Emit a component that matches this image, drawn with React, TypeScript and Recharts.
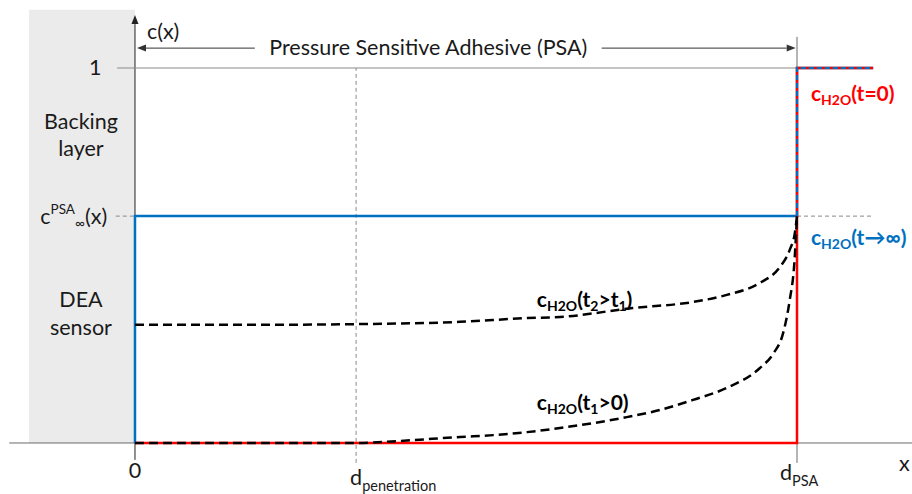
import React from 'react';
import { ComposedChart, Line, XAxis, YAxis, ReferenceArea, ReferenceLine, ReferenceDot } from 'recharts';

// axis domains chosen so x=0 sits on the c(x) axis and x=1 on d_PSA
const X_DOMAIN = [-0.2039, 1.1737];
const Y_DOMAIN = [-0.136, 1.1813];

// positions along x (0 = sensor surface, 1 = PSA thickness)
const D_PEN = 0.334;
const D_PSA = 1;
const X_END = 1.115;

// concentration levels
const C_ONE = 1;
const C_INF = 0.605;

// c_H2O(t=0): dry PSA, water only outside
const curveT0 = [
  { x: 0, y: 0 },
  { x: D_PSA, y: 0 },
  { x: D_PSA, y: C_ONE },
  { x: X_END, y: C_ONE },
];

// c_H2O(t->inf): saturated PSA
const curveInf = [
  { x: 0, y: 0 },
  { x: 0, y: C_INF },
  { x: D_PSA, y: C_INF },
  { x: D_PSA, y: C_ONE },
  { x: X_END, y: C_ONE },
];
const curveInfTop = [
  { x: D_PSA, y: C_INF },
  { x: D_PSA, y: C_ONE },
  { x: X_END, y: C_ONE },
];

// c_H2O(t1>0)
const curveT1 = [
  { x: 0, y: 0 },
  { x: 0.334, y: 0 },
  { x: 0.396, y: 0.005 },
  { x: 0.491, y: 0.016 },
  { x: 0.541, y: 0.021 },
  { x: 0.592, y: 0.029 },
  { x: 0.642, y: 0.04 },
  { x: 0.743, y: 0.069 },
  { x: 0.793, y: 0.088 },
  { x: 0.843, y: 0.115 },
  { x: 0.894, y: 0.147 },
  { x: 0.944, y: 0.2 },
  { x: 0.964, y: 0.238 },
  { x: 0.979, y: 0.293 },
  { x: 0.989, y: 0.381 },
  { x: 0.996, y: 0.48 },
  { x: 1.0, y: 0.605 },
];

// c_H2O(t2>t1)
const curveT2 = [
  { x: 0, y: 0.315 },
  { x: 0.174, y: 0.315 },
  { x: 0.334, y: 0.317 },
  { x: 0.491, y: 0.323 },
  { x: 0.592, y: 0.333 },
  { x: 0.642, y: 0.336 },
  { x: 0.752, y: 0.36 },
  { x: 0.843, y: 0.376 },
  { x: 0.894, y: 0.395 },
  { x: 0.944, y: 0.427 },
  { x: 0.974, y: 0.469 },
  { x: 0.989, y: 0.515 },
  { x: 0.997, y: 0.563 },
  { x: 1.0, y: 0.605 },
];

const RED = '#ff0000';
const BLUE = '#0070c0';
const GRAY = '#8a8a8a';
const AXIS = '#6a6a6a';
const TXT = '#1a1a1a';
const FONT = 'Lato, "Open Sans", sans-serif';
const FS = 21.5;

const Arrow = (props: any) => {
  const { x1, y1, x2, y2, color = '#333' } = props;
  const a = Math.atan2(y2 - y1, x2 - x1);
  const len = 9;
  const w = 3.5;
  const bx = x2 - len * Math.cos(a);
  const by = y2 - len * Math.sin(a);
  const px = -Math.sin(a) * w;
  const py = Math.cos(a) * w;
  return (
    <g>
      <line x1={x1} y1={y1} x2={bx} y2={by} stroke={color} strokeWidth={1} />
      <polygon points={`${x2},${y2} ${bx + px},${by + py} ${bx - px},${by - py}`} fill={color} />
    </g>
  );
};

// text placed through the chart scales
const note = (key: string, x: number, y: number, render: (cx: number, cy: number) => React.ReactNode) => (
  <ReferenceDot key={key} x={x} y={y} r={0} shape={(p: any) => <g>{render(p.cx, p.cy)}</g>} />
);

const subLabel = (main: string, sub: string, rest: React.ReactNode, color: string) => (cx: number, cy: number) => (
  <text x={cx} y={cy} fill={color} fontFamily={FONT} fontWeight={700} fontSize={21}>
    {main}
    <tspan fontSize={14} dy={4}>{sub}</tspan>
    <tspan dy={-4}>{rest}</tspan>
  </text>
);

export default function App() {
  return (
    <div style={{ position: 'absolute', left: 0, top: 0, width: 912, height: 494, background: '#fff' }}>
      <ComposedChart width={912} height={494} margin={{ top: 0, right: 0, bottom: 0, left: 0 }}>
        <XAxis type="number" dataKey="x" domain={X_DOMAIN} hide allowDataOverflow />
        <YAxis type="number" domain={Y_DOMAIN} hide allowDataOverflow />

        {/* backing layer / DEA sensor */}
        <ReferenceArea x1={-0.16} x2={0} y1={0} y2={1.155} fill="#ebebeb" fillOpacity={1} stroke="none" />

        {/* axes */}
        <ReferenceLine segment={[{ x: -0.19, y: 0 }, { x: 1.1737, y: 0 }]} stroke={AXIS} strokeWidth={1} />
        <ReferenceLine
          segment={[{ x: 0, y: -0.045 }, { x: 0, y: 1.141 }]}
          shape={(p: any) => <Arrow {...p} color="#222" />}
        />
        <ReferenceLine segment={[{ x: D_PSA, y: -0.053 }, { x: D_PSA, y: 1.083 }]} stroke={AXIS} strokeWidth={1} />
        <ReferenceLine segment={[{ x: D_PEN, y: -0.053 }, { x: D_PEN, y: C_ONE }]} stroke={GRAY} strokeDasharray="4 3" strokeWidth={1} />
        <ReferenceLine segment={[{ x: -0.027, y: C_ONE }, { x: D_PSA, y: C_ONE }]} stroke={GRAY} strokeWidth={1} />
        <ReferenceLine segment={[{ x: -0.029, y: C_INF }, { x: 0, y: C_INF }]} stroke={GRAY} strokeDasharray="4 3" strokeWidth={1} />
        <ReferenceLine segment={[{ x: D_PSA, y: C_INF }, { x: X_END, y: C_INF }]} stroke={GRAY} strokeDasharray="4 3" strokeWidth={1} />

        {/* PSA thickness arrows */}
        <ReferenceLine segment={[{ x: 0.181, y: 1.053 }, { x: 0.003, y: 1.053 }]} shape={(p: any) => <Arrow {...p} color="#333" />} />
        <ReferenceLine segment={[{ x: 0.705, y: 1.053 }, { x: 0.998, y: 1.053 }]} shape={(p: any) => <Arrow {...p} color="#333" />} />

        <Line data={curveInf} dataKey="y" type="linear" stroke={BLUE} strokeWidth={2.5} dot={false} activeDot={false} isAnimationActive={false} />
        <Line data={curveT0} dataKey="y" type="linear" stroke={RED} strokeWidth={2.5} dot={false} activeDot={false} isAnimationActive={false} />
        <Line data={curveInfTop} dataKey="y" type="linear" stroke={BLUE} strokeWidth={2} strokeDasharray="5 3" dot={false} activeDot={false} isAnimationActive={false} />
        <Line data={curveT2} dataKey="y" type="monotone" stroke="#000" strokeWidth={2.5} strokeDasharray="9 5" dot={false} activeDot={false} isAnimationActive={false} />
        <Line data={curveT1} dataKey="y" type="monotone" stroke="#000" strokeWidth={2.5} strokeDasharray="9 5" dot={false} activeDot={false} isAnimationActive={false} />

        {note('cx', 0.018, 1.096, (cx, cy) => (
          <text x={cx} y={cy} dy={7} fill={TXT} fontFamily={FONT} fontSize={FS}>c(x)</text>
        ))}
        {note('psa', 0.443, 1.053, (cx, cy) => (
          <text x={cx} y={cy} dy={7} textAnchor="middle" fill={TXT} fontFamily={FONT} fontSize={FS}>Pressure Sensitive Adhesive (PSA)</text>
        ))}
        {note('one', -0.06, C_ONE, (cx, cy) => (
          <text x={cx} y={cy} dy={7} textAnchor="middle" fill={TXT} fontFamily={FONT} fontSize={FS}>1</text>
        ))}
        {note('cinf', -0.042, C_INF, (cx, cy) => (
          <text x={cx} y={cy} dy={8} textAnchor="end" fill={TXT} fontFamily={FONT} fontSize={FS}>
            c<tspan fontSize={13.5} dy={-10}>PSA</tspan>
            <tspan fontSize={13.5} dy={14}>∞</tspan>
            <tspan dy={-4}>(x)</tspan>
          </text>
        ))}
        {note('back', -0.0816, 0.838, (cx, cy) => (
          <text x={cx} y={cy} textAnchor="middle" fill={TXT} fontFamily={FONT} fontSize={FS}>
            <tspan x={cx}>Backing</tspan>
            <tspan x={cx} dy={27}>layer</tspan>
          </text>
        ))}
        {note('dea', -0.0816, 0.363, (cx, cy) => (
          <text x={cx} y={cy} textAnchor="middle" fill={TXT} fontFamily={FONT} fontSize={FS}>
            <tspan x={cx}>DEA</tspan>
            <tspan x={cx} dy={28}>sensor</tspan>
          </text>
        ))}

        {/* x ticks */}
        {note('t0', 0, -0.093, (cx, cy) => (
          <text x={cx} y={cy} textAnchor="middle" fill={TXT} fontFamily={FONT} fontSize={FS}>0</text>
        ))}
        {note('tpen', D_PEN, -0.112, (cx, cy) => (
          <text x={cx} y={cy} dx={-6} fill={TXT} fontFamily={FONT} fontSize={FS}>
            d<tspan fontSize={14.5} dy={6}>penetration</tspan>
          </text>
        ))}
        {note('tpsa', D_PSA, -0.099, (cx, cy) => (
          <text x={cx} y={cy} dx={-17} fill={TXT} fontFamily={FONT} fontSize={FS}>
            d<tspan fontSize={14.5} dy={6}>PSA</tspan>
          </text>
        ))}
        {note('xl', 1.154, -0.075, (cx, cy) => (
          <text x={cx} y={cy} fill={TXT} fontFamily={FONT} fontSize={FS}>x</text>
        ))}

        {/* curve labels */}
        {note('l0', 1.021, 0.912, subLabel('c', 'H2O', '(t=0)', RED))}
        {note('linf', 1.021, 0.528, subLabel('c', 'H2O', '(t→∞)', BLUE))}
        {note('l2', 0.607, 0.363, (cx, cy) => (
          <text x={cx} y={cy} fill="#000" fontFamily={FONT} fontWeight={700} fontSize={21}>
            c<tspan fontSize={14} dy={4}>H2O</tspan>
            <tspan dy={-4}>(t</tspan>
            <tspan fontSize={14} dy={4}>2</tspan>
            <tspan dy={-4}>&gt;t</tspan>
            <tspan fontSize={14} dy={4}>1</tspan>
            <tspan dy={-4}>)</tspan>
          </text>
        ))}
        {note('l1', 0.607, 0.088, (cx, cy) => (
          <text x={cx} y={cy} fill="#000" fontFamily={FONT} fontWeight={700} fontSize={21}>
            c<tspan fontSize={14} dy={4}>H2O</tspan>
            <tspan dy={-4}>(t</tspan>
            <tspan fontSize={14} dy={4}>1</tspan>
            <tspan dy={-4}>&gt;0)</tspan>
          </text>
        ))}
      </ComposedChart>
    </div>
  );
}
